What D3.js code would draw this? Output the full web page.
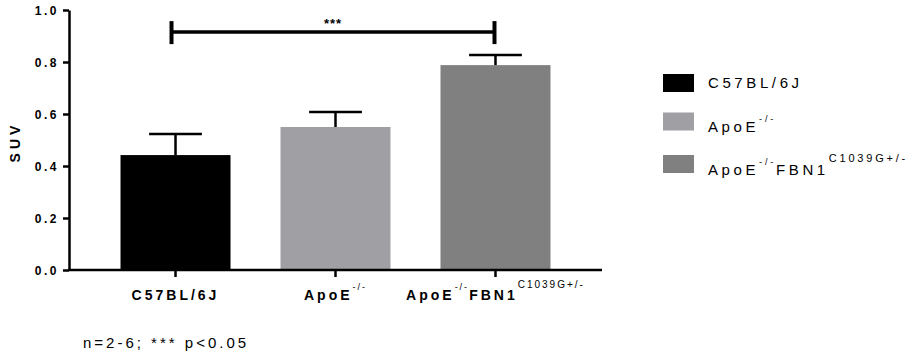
<!DOCTYPE html>
<meta charset="utf-8">
<style>
  body {
    margin: 0;
    font-family: "Liberation Sans", Arial, Helvetica, sans-serif;
    background: #fff;
  }
  svg { display: block; }
  .axis path, .axis line { stroke: #000; stroke-width: 2.5px; }
  .axis text { font-size: 12px; font-weight: bold; letter-spacing: 2.5px; fill: #000; }
</style>
<body>
<div id="chart"></div>
<script src="https://cdn.jsdelivr.net/npm/d3@7"></script>
<script>

var groups = ["C57BL/6J", "ApoE-/-", "ApoE-/-FBN1C1039G+/-"];
// label pieces: [main text, superscript]
var labelParts = [
  [["C57BL/6J", ""]],
  [["ApoE", "-/-"]],
  [["ApoE", "-/-"], ["FBN1", "C1039G+/-"]]
];
var means = [0.442, 0.55, 0.788];
var sems = [0.081, 0.058, 0.039];
var colors = ["#000000", "#a09fa4", "#808080"];
var yTicks = [0, 0.2, 0.4, 0.6, 0.8, 1.0];
var sigPair = [0, 2];
var sigY = 0.915;
var footnote = "n=2-6; *** p<0.05";

var width = 914,
    height = 355;

var svg = d3.select("#chart").append("svg")
  .attr("width", width)
  .attr("height", height);

var x = d3.scaleBand()
  .domain(groups)
  .range([69, 602])
  .paddingInner(0.3125)
  .paddingOuter(0.322);

var y = d3.scaleLinear()
  .domain([0, 1])
  .range([270, 10]);

// bars
svg.selectAll(".bar")
  .data(groups)
  .enter().append("rect")
  .attr("class", "bar")
  .attr("x", function(d) { return x(d); })
  .attr("width", x.bandwidth())
  .attr("y", function(d, i) { return y(means[i]); })
  .attr("height", function(d, i) { return y(0) - y(means[i]); })
  .attr("fill", function(d, i) { return colors[i]; });

// error bars (upper only)
var capW = x.bandwidth() * 0.48;
var err = svg.selectAll(".err")
  .data(groups)
  .enter().append("g")
  .attr("class", "err")
  .attr("stroke", "#000")
  .attr("stroke-width", 2.5);

err.append("line")
  .attr("x1", function(d) { return x(d) + x.bandwidth() / 2; })
  .attr("x2", function(d) { return x(d) + x.bandwidth() / 2; })
  .attr("y1", function(d, i) { return y(means[i]); })
  .attr("y2", function(d, i) { return y(means[i] + sems[i]); });

err.append("line")
  .attr("x1", function(d) { return x(d) + x.bandwidth() / 2 - capW / 2; })
  .attr("x2", function(d) { return x(d) + x.bandwidth() / 2 + capW / 2; })
  .attr("y1", function(d, i) { return y(means[i] + sems[i]); })
  .attr("y2", function(d, i) { return y(means[i] + sems[i]); });

// y axis
var yAxis = svg.append("g")
  .attr("class", "axis")
  .attr("transform", "translate(69,0)")
  .call(d3.axisLeft(y).tickValues(yTicks).tickFormat(d3.format(".1f")).tickSize(6).tickSizeOuter(0));
yAxis.selectAll("text").attr("x", -10).attr("dy", "0.35em");

// x axis
var xAxis = svg.append("g")
  .attr("class", "axis")
  .attr("transform", "translate(0,270)")
  .call(d3.axisBottom(x).tickSize(7).tickSizeOuter(0));
xAxis.select(".domain").attr("d", "M68,0H602");
xAxis.selectAll("text").remove();

// writes main text + raised superscripts into a text element
function writeLabel(t, parts, supStyle) {
  var back = 0;
  parts.forEach(function(p) {
    t.append("tspan").attr("dy", back).text(p[0]);
    back = 0;
    if (p[1]) {
      var big = p[1].length > 3;
      var rise = big ? supStyle.bigRise : supStyle.rise;
      t.append("tspan")
        .attr("dy", -rise)
        .style("font-size", big ? supStyle.bigSize : supStyle.size)
        .style("font-weight", "normal")
        .style("letter-spacing", supStyle.spacing)
        .text(p[1]);
      back = rise;
    }
  });
}

// x tick labels with superscripts
groups.forEach(function(g, i) {
  var t = svg.append("text")
    .attr("x", x(g) + x.bandwidth() / 2)
    .attr("y", 300)
    .attr("text-anchor", "middle")
    .style("font-size", "14px")
    .style("font-weight", "bold")
    .style("letter-spacing", "3px");
  writeLabel(t, labelParts[i], { rise: 10, bigRise: 12, size: "9px", bigSize: "10px", spacing: "2px" });
});

// y axis title
svg.append("text")
  .attr("transform", "translate(20,142) rotate(-90)")
  .attr("text-anchor", "middle")
  .style("font-size", "14px")
  .style("font-weight", "bold")
  .style("letter-spacing", "4px")
  .text("SUV");

// significance bracket
var sx1 = x(groups[sigPair[0]]) + x.bandwidth() / 2 - 4,
    sx2 = x(groups[sigPair[1]]) + x.bandwidth() / 2 - 1;
var sig = svg.append("g").attr("stroke", "#000");
sig.append("line")
  .attr("x1", sx1).attr("x2", sx2)
  .attr("y1", y(sigY)).attr("y2", y(sigY))
  .attr("stroke-width", 3.5);
[sx1, sx2].forEach(function(sx) {
  sig.append("line")
    .attr("x1", sx).attr("x2", sx)
    .attr("y1", y(sigY) - 11).attr("y2", y(sigY) + 12)
    .attr("stroke-width", 4);
});
svg.append("text")
  .attr("x", (sx1 + sx2) / 2)
  .attr("y", y(sigY) - 4)
  .attr("text-anchor", "middle")
  .style("font-size", "13px")
  .style("font-weight", "bold")
  .style("letter-spacing", "1px")
  .text("***");

// legend
var legendY = [83, 121.5, 164];
var legend = svg.selectAll(".legend")
  .data(groups)
  .enter().append("g")
  .attr("class", "legend")
  .attr("transform", function(d, i) { return "translate(663," + legendY[i] + ")"; });

legend.append("rect")
  .attr("x", 0)
  .attr("y", -9)
  .attr("width", 31)
  .attr("height", 18)
  .attr("fill", function(d, i) { return colors[i]; });

legend.each(function(d, i) {
  var base = i === 0 ? 5 : (i === 1 ? 10 : 11);
  var t = d3.select(this).append("text")
    .attr("x", 45)
    .attr("y", base)
    .style("font-size", "15px")
    .style("letter-spacing", "3.6px");
  writeLabel(t, labelParts[i], { rise: 10, bigRise: 13, size: "9px", bigSize: "11px", spacing: "2.8px" });
});

// footnote
svg.append("text")
  .attr("x", 83)
  .attr("y", 348)
  .style("font-size", "15px")
  .style("letter-spacing", "3px")
  .style("white-space", "pre")
  .text(footnote);

</script>
</body>
